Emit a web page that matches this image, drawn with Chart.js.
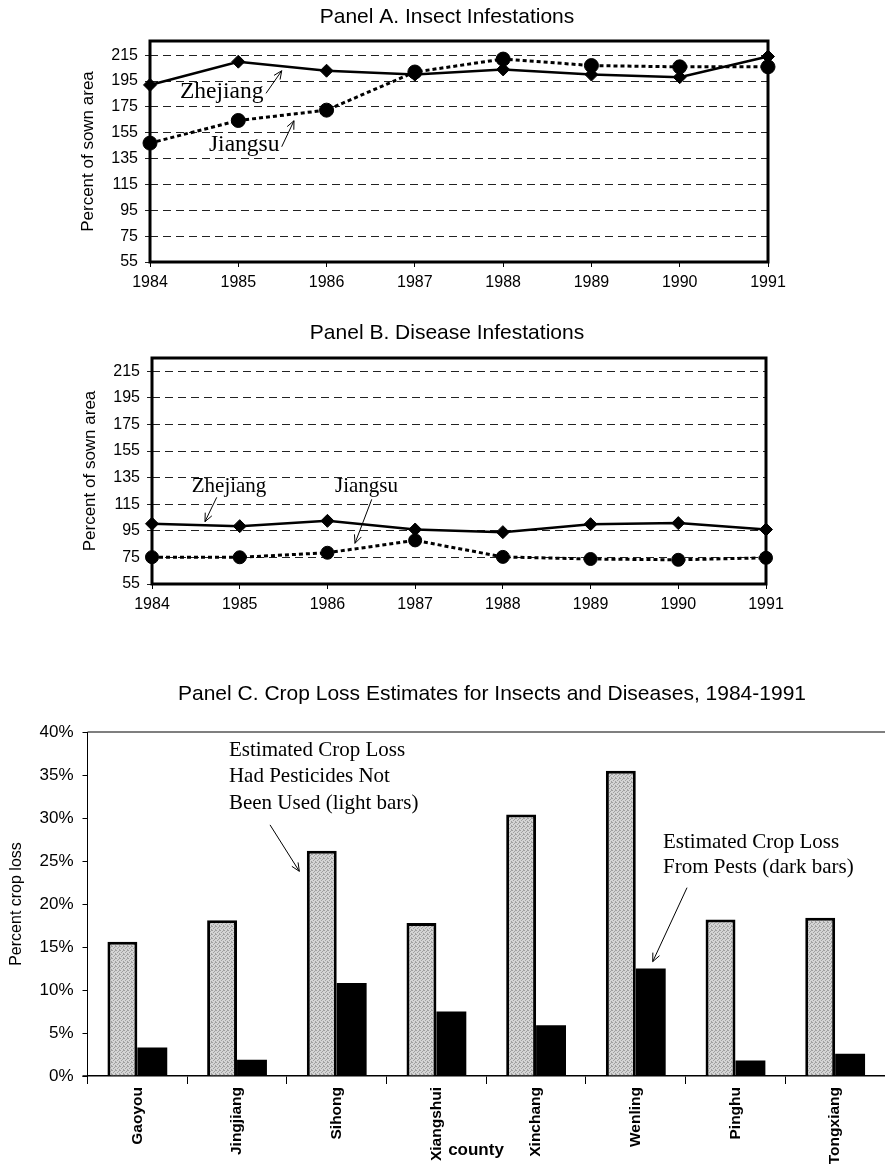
<!DOCTYPE html>
<html><head><meta charset="utf-8">
<script src="https://cdn.jsdelivr.net/npm/chart.js@4.4.1/dist/chart.umd.min.js"></script>
<style>
html,body{margin:0;padding:0;background:#fff;}
body{width:885px;height:1165px;position:relative;overflow:hidden;}
.box{position:absolute;left:0;width:885px;}
</style></head><body>
<div class="box" style="top:0;height:300px"><canvas id="cA"></canvas></div>
<div class="box" style="top:300px;height:330px"><canvas id="cB"></canvas></div>
<div class="box" style="top:650px;height:515px"><canvas id="cC"></canvas></div>
<script>
// ---------- DATA ----------
const years = ['1984','1985','1986','1987','1988','1989','1990','1991'];
const infestTicks = [55,75,95,115,135,155,175,195,215];

const insectZhejiang = [192, 210, 203, 200, 204, 200, 198, 214];
const insectJiangsu  = [147, 164.5, 172.5, 202, 212, 207, 206, 206];

const diseaseZhejiang = [100.3, 98.5, 102.5, 96, 94, 100, 100.8, 96];
const diseaseJiangsu  = [75.2, 75.1, 78.5, 87.8, 75.4, 73.8, 73.2, 74.7];

const counties = ['Gaoyou','Jingjiang','Sihong','Xiangshui','Xinchang','Wenling','Pinghu','Tongxiang'];
const lossWithoutPesticides = [15.6, 18.1, 26.2, 17.8, 30.4, 35.5, 18.2, 18.4];
const lossFromPests         = [3.3, 1.9, 10.8, 7.5, 5.9, 12.5, 1.8, 2.6];
const lossTicks = [0,5,10,15,20,25,30,35,40];

// ---------- STYLE HELPERS ----------
const SANS = "'Liberation Sans', Arial, Helvetica, sans-serif";
const SERIF = "'Liberation Serif', 'Times New Roman', serif";

function drawArrow(ctx, x1, y1, x2, y2) {
  ctx.save();
  ctx.strokeStyle = '#000'; ctx.lineWidth = 1;
  ctx.beginPath(); ctx.moveTo(x1, y1); ctx.lineTo(x2, y2); ctx.stroke();
  const a = Math.atan2(y2 - y1, x2 - x1), L = 9, w = 0.42;
  ctx.beginPath();
  ctx.moveTo(x2 - L * Math.cos(a - w), y2 - L * Math.sin(a - w));
  ctx.lineTo(x2, y2);
  ctx.lineTo(x2 - L * Math.cos(a + w), y2 - L * Math.sin(a + w));
  ctx.stroke();
  ctx.restore();
}

// notes: texts and arrows placed in data space (category index, value)
const notesPlugin = {
  id: 'notes',
  afterDraw(chart, args, opts) {
    const ctx = chart.ctx, xs = chart.scales.x, ys = chart.scales.y;
    ctx.save();
    if (opts.title) {
      ctx.fillStyle = '#000';
      ctx.font = opts.title.size + 'px ' + SANS;
      ctx.textAlign = 'center'; ctx.textBaseline = 'middle';
      ctx.fillText(opts.title.text, opts.title.x, opts.title.y);
    }
    (opts.labels || []).forEach(n => {
      ctx.fillStyle = '#000';
      ctx.font = n.font;
      ctx.textAlign = 'center'; ctx.textBaseline = 'middle';
      ctx.fillText(n.t, n.x, n.y);
    });
    (opts.texts || []).forEach(n => {
      ctx.fillStyle = '#000';
      ctx.font = n.size + 'px ' + SERIF;
      ctx.textAlign = 'left'; ctx.textBaseline = 'middle';
      ctx.fillText(n.t, xs.getPixelForValue(n.x), ys.getPixelForValue(n.y));
    });
    (opts.arrows || []).forEach(a => {
      drawArrow(ctx, xs.getPixelForValue(a[0]), ys.getPixelForValue(a[1]),
                     xs.getPixelForValue(a[2]), ys.getPixelForValue(a[3]));
    });
    ctx.restore();
  }
};

const framePlugin = {
  id: 'frame',
  beforeDatasetsDraw(chart, args, opts) {
    if (!opts.mode) return;
    const ctx = chart.ctx, a = chart.chartArea;
    ctx.save();
    ctx.strokeStyle = '#000';
    if (opts.mode === 'box') {
      ctx.lineWidth = 3;
      ctx.strokeRect(a.left, a.top, a.right - a.left, a.bottom - a.top);
    } else if (opts.mode === 'top') {
      ctx.lineWidth = 1.2;
      ctx.beginPath(); ctx.moveTo(a.left, a.top); ctx.lineTo(a.right, a.top); ctx.stroke();
      ctx.lineWidth = 1.5;
      ctx.beginPath(); ctx.moveTo(a.left - 5, a.bottom); ctx.lineTo(a.left, a.bottom); ctx.stroke();
    }
    ctx.restore();
  }
};

function lineChart(id, zData, jData, g) {
  return new Chart(document.getElementById(id), {
    type: 'line',
    data: {
      labels: years,
      datasets: [
        { label: 'Zhejiang', data: zData, borderColor: '#000', backgroundColor: '#000',
          borderWidth: 2.5, pointStyle: 'rectRot', pointRadius: g.dr,
          pointBackgroundColor: '#000', pointBorderColor: '#000', pointBorderWidth: 1,
          tension: 0, clip: false },
        { label: 'Jiangsu', data: jData, borderColor: '#000', backgroundColor: '#000',
          borderWidth: 3, borderDash: [4, 3], pointStyle: 'circle', pointRadius: g.cr,
          pointBackgroundColor: '#000', pointBorderColor: '#000', pointBorderWidth: 1,
          tension: 0, clip: false }
      ]
    },
    options: {
      responsive: true, maintainAspectRatio: false, animation: false, devicePixelRatio: 1,
      layout: { padding: { left: g.padL, right: g.padR, top: g.top, bottom: 0 } },
      plugins: {
        legend: { display: false }, tooltip: { enabled: false },
        frame: { mode: 'box' },
        notes: { title: g.title, texts: g.texts, arrows: g.arrows }
      },
      scales: {
        x: {
          type: 'category', offset: false,
          grid: { drawOnChartArea: false, drawTicks: true, tickLength: 5, color: '#000', lineWidth: 1 },
          border: { display: false },
          ticks: { color: '#000', font: { family: SANS, size: 16 }, padding: 6, maxRotation: 0, autoSkip: false },
          afterFit(s) { s.height = g.xh; }
        },
        y: {
          min: 55, max: g.max,
          afterBuildTicks(s) { s.ticks = infestTicks.map(v => ({ value: v })); },
          grid: { color: '#222', lineWidth: 1, tickLength: 5 },
          border: { display: false, dash: [8, 5] },
          ticks: { color: '#000', font: { family: SANS, size: 16 }, padding: 7 },
          title: { display: true, text: 'Percent of sown area', color: '#000',
                   font: { family: SANS, size: 17 }, padding: { top: 3, bottom: 4 } },
          afterFit(s) { s.width = g.yw; }
        }
      }
    },
    plugins: [framePlugin, notesPlugin]
  });
}

lineChart('cA', insectZhejiang, insectJiangsu, {
  padL: 75, yw: 75, padR: 117, top: 41, xh: 38, max: 226, dr: 6.5, cr: 7,
  title: { text: 'Panel A. Insect Infestations', x: 447, y: 17, size: 21 },
  texts: [ { t: 'Zhejiang', x: 0.34, y: 186.8, size: 23.5 },
           { t: 'Jiangsu', x: 0.668, y: 145.5, size: 23.5 } ],
  arrows: [ [1.314, 185.5, 1.492, 203], [1.492, 144.2, 1.631, 164.3] ]
});

lineChart('cB', diseaseZhejiang, diseaseJiangsu, {
  padL: 77, yw: 75, padR: 119, top: 58, xh: 46, max: 225, dr: 6.5, cr: 6.5,
  title: { text: 'Panel B. Disease Infestations', x: 447, y: 33, size: 21 },
  texts: [ { t: 'Zhejiang', x: 0.453, y: 128.2, size: 21 },
           { t: 'Jiangsu', x: 2.086, y: 128.2, size: 21 } ],
  arrows: [ [0.738, 120.2, 0.604, 101.9], [2.505, 118.7, 2.314, 85.6] ]
});

// stippled light fill
function stipple() {
  const c = document.createElement('canvas'); c.width = 4; c.height = 4;
  const x = c.getContext('2d');
  x.fillStyle = '#d4d4d4'; x.fillRect(0, 0, 4, 4);
  x.fillStyle = '#a0a0a0';
  [[0,0],[2,1],[1,2],[3,3],[3,0]].forEach(p => x.fillRect(p[0], p[1], 1, 1));
  return x.createPattern(c, 'repeat');
}

new Chart(document.getElementById('cC'), {
  type: 'bar',
  data: {
    labels: counties,
    datasets: [
      { label: 'Estimated Crop Loss Had Pesticides Not Been Used', data: lossWithoutPesticides,
        backgroundColor: stipple(), borderColor: '#000', borderWidth: 3, borderSkipped: 'start',
        categoryPercentage: 0.6, barPercentage: 1.0 },
      { label: 'Estimated Crop Loss From Pests', data: lossFromPests,
        backgroundColor: '#000', borderColor: '#000', borderWidth: 0,
        categoryPercentage: 0.6, barPercentage: 1.0 }
    ]
  },
  options: {
    responsive: true, maintainAspectRatio: false, animation: false, devicePixelRatio: 1,
    layout: { padding: { left: 3, right: 0, top: 82, bottom: 0 } },
    plugins: {
      legend: { display: false }, tooltip: { enabled: false },
      frame: { mode: 'top' },
      notes: {
        title: { text: 'Panel C. Crop Loss Estimates for Insects and Diseases, 1984-1991', x: 492, y: 44, size: 21 },
        labels: [ { t: 'county', x: 476, y: 500, font: 'bold 17px ' + SANS } ],
        texts: [
          { t: 'Estimated Crop Loss', x: 0.919, y: 37.9, size: 21 },
          { t: 'Had Pesticides Not', x: 0.919, y: 34.8, size: 21 },
          { t: 'Been Used (light bars)', x: 0.919, y: 31.7, size: 21 },
          { t: 'Estimated Crop Loss', x: 5.273, y: 27.2, size: 21 },
          { t: 'From Pests (dark bars)', x: 5.273, y: 24.2, size: 21 }
        ],
        arrows: [ [1.331, 29.2, 1.625, 23.8], [5.514, 21.9, 5.170, 13.3] ]
      }
    },
    scales: {
      x: {
        grid: { offset: true, drawOnChartArea: false, tickLength: 8, color: '#000', lineWidth: 1 },
        border: { display: true, color: '#000', width: 1.5 },
        ticks: { color: '#000', font: { family: SANS, size: 15.5, weight: 'bold' }, minRotation: 90, maxRotation: 90, padding: 3, autoSkip: false },
        title: { display: false, text: 'county' },
        afterFit(s) { s.height = 89; }
      },
      y: {
        min: 0, max: 40,
        afterBuildTicks(s) { s.ticks = lossTicks.map(v => ({ value: v })); },
        grid: { drawOnChartArea: false, tickLength: 5, color: '#000' },
        border: { display: true, color: '#000', width: 1 },
        ticks: { color: '#000', font: { family: SANS, size: 17 }, padding: 9, callback: v => v + '%' },
        title: { display: true, text: 'Percent crop loss', color: '#000', font: { family: SANS, size: 16 }, padding: { top: 4, bottom: 4 } },
        afterFit(s) { s.width = 84.5; }
      }
    }
  },
  plugins: [framePlugin, notesPlugin]
});
</script>
</body></html>
